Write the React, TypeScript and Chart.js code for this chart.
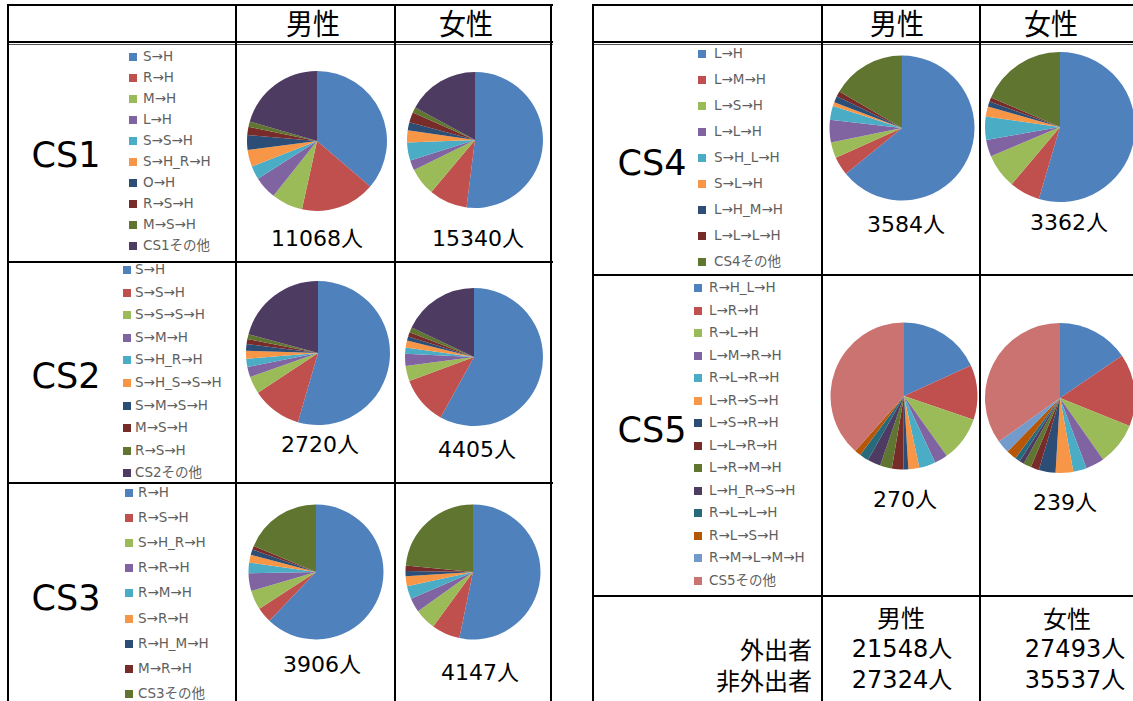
import React, { useEffect, useRef } from "react";
import { Chart, registerables } from "chart.js";

Chart.register(...registerables);

// Office-style series colours, used in order for every trip-chain pie
const PALETTE = [
  "#4F81BD", "#C0504D", "#9BBB59", "#8064A2", "#4BACC6", "#F79646", "#2C4D75",
  "#772C2A", "#5F7530", "#4D3B62", "#276A7C", "#B65708", "#729ACA", "#CB7370",
];

// Trip-chain categories per cluster
const CS1_LABELS = ["S→H", "R→H", "M→H", "L→H", "S→S→H", "S→H_R→H", "O→H", "R→S→H", "M→S→H", "CS1その他"];
const CS2_LABELS = ["S→H", "S→S→H", "S→S→S→H", "S→M→H", "S→H_R→H", "S→H_S→S→H", "S→M→S→H", "M→S→H", "R→S→H", "CS2その他"];
const CS3_LABELS = ["R→H", "R→S→H", "S→H_R→H", "R→R→H", "R→M→H", "S→R→H", "R→H_M→H", "M→R→H", "CS3その他"];
const CS4_LABELS = ["L→H", "L→M→H", "L→S→H", "L→L→H", "S→H_L→H", "S→L→H", "L→H_M→H", "L→L→L→H", "CS4その他"];
const CS5_LABELS = ["R→H_L→H", "L→R→H", "R→L→H", "L→M→R→H", "R→L→R→H", "L→R→S→H", "L→S→R→H", "L→L→R→H", "L→R→M→H", "L→H_R→S→H", "R→L→L→H", "R→L→S→H", "R→M→L→M→H", "CS5その他"];

// Share of each chain (%), male / female
const CS1_MALE = [36.2, 17.2, 7.2, 5.3, 3.1, 3.9, 3.4, 1.9, 1.2, 20.5];
const CS1_FEMALE = [52.0, 9.1, 6.6, 2.4, 4.3, 2.9, 1.9, 2.4, 1.3, 17.1];
const CS2_MALE = [54.5, 11.2, 3.9, 2.3, 1.8, 1.8, 1.5, 1.1, 1.1, 20.8];
const CS2_FEMALE = [58.1, 11.3, 3.6, 2.8, 1.5, 1.6, 1.0, 1.0, 1.2, 18.0];
const CS3_MALE = [62.2, 3.7, 4.6, 4.3, 2.5, 1.9, 1.3, 0.9, 18.7];
const CS3_FEMALE = [53.3, 6.8, 5.1, 3.4, 3.1, 2.4, 1.2, 1.3, 23.5];
const CS4_MALE = [64.1, 4.2, 3.5, 5.0, 3.1, 0.9, 1.4, 1.2, 16.6];
const CS4_FEMALE = [54.6, 6.6, 7.5, 3.6, 5.0, 2.2, 1.1, 0.9, 18.6];
const CS5_MALE = [18.2, 12.0, 9.9, 2.9, 3.6, 2.4, 1.1, 2.5, 2.6, 2.9, 2.0, 1.4, 0, 38.4];
const CS5_FEMALE = [15.5, 15.6, 9.2, 4.0, 2.9, 3.8, 3.6, 1.8, 1.7, 1.0, 1.1, 2.2, 2.8, 34.9];

// Persons per cluster
const CLUSTER_NAMES = ["CS1", "CS2", "CS3", "CS4", "CS5"];
const MALE_TOTALS = [11068, 2720, 3906, 3584, 270];
const FEMALE_TOTALS = [15340, 4405, 4147, 3362, 239];

// Outgoing / non-outgoing persons
const SUMMARY_ROWS = ["外出者", "非外出者"];
const SUMMARY_MALE = [21548, 27324];
const SUMMARY_FEMALE = [27493, 35537];

const GENDER_HEADERS = ["男性", "女性"];

const LATIN = '"DejaVu Sans", "Noto Sans CJK JP", sans-serif';
const CJK = '"Noto Sans CJK JP", "DejaVu Sans", sans-serif';

type PieProps = { cx: number; cy: number; r: number; values: number[]; labels: string[] };

function Pie({ cx, cy, r, values, labels }: PieProps) {
  const ref = useRef<HTMLCanvasElement | null>(null);
  const size = Math.ceil(r) * 2 + 4;
  useEffect(() => {
    if (!ref.current) return;
    const chart = new Chart(ref.current, {
      type: "pie",
      data: {
        labels,
        datasets: [
          {
            data: values,
            backgroundColor: PALETTE.slice(0, values.length),
            borderWidth: 0,
            hoverOffset: 0,
            radius: r,
          },
        ],
      },
      options: {
        responsive: false,
        maintainAspectRatio: false,
        animation: false,
        layout: { padding: 0 },
        plugins: { legend: { display: false }, tooltip: { enabled: false } },
      },
    });
    return () => chart.destroy();
  }, [cx, cy, r, values, labels]);
  return (
    <canvas
      ref={ref}
      width={size}
      height={size}
      style={{ position: "absolute", left: cx - size / 2, top: cy - size / 2, width: size, height: size }}
    />
  );
}

type TextProps = {
  x: number; y: number; size: number; family?: string; align?: "center" | "right" | "left";
  color?: string; children: React.ReactNode; scaleX?: number;
};

function Label({ x, y, size, family = LATIN, align = "center", color = "#000", children, scaleX = 1 }: TextProps) {
  const tx = align === "center" ? "-50%" : align === "right" ? "-100%" : "0";
  return (
    <div
      style={{
        position: "absolute", left: x, top: y, fontSize: size, fontFamily: family, color,
        lineHeight: 1, whiteSpace: "nowrap", transform: `translate(${tx}, -50%) scaleX(${scaleX})`,
        transformOrigin: align === "center" ? "center" : align === "right" ? "right" : "left",
      }}
    >
      {children}
    </div>
  );
}

type LegendProps = { labels: string[]; swatchX: number; textX: number; y0: number; step: number };

function Legend({ labels, swatchX, textX, y0, step }: LegendProps) {
  return (
    <>
      {labels.map((lab, i) => (
        <React.Fragment key={lab}>
          <div
            style={{
              position: "absolute", left: swatchX, top: y0 + i * step - 4, width: 8, height: 8,
              background: PALETTE[i],
            }}
          />
          <Label x={textX} y={y0 + i * step} size={13.5} align="left" color="#5f5f5f">
            {lab}
          </Label>
        </React.Fragment>
      ))}
    </>
  );
}

function HLine({ x1, x2, y, w = 2, color = "#000" }: { x1: number; x2: number; y: number; w?: number; color?: string }) {
  return <div style={{ position: "absolute", left: x1, top: y, width: x2 - x1, height: w, background: color }} />;
}
function VLine({ x, y1, y2, w = 2 }: { x: number; y1: number; y2: number; w?: number }) {
  return <div style={{ position: "absolute", left: x, top: y1, width: w, height: y2 - y1, background: "#000" }} />;
}

const fmt = (n: number) => `${n}人`;

export default function App() {
  const labelSets = [CS1_LABELS, CS2_LABELS, CS3_LABELS, CS4_LABELS, CS5_LABELS];
  const maleSets = [CS1_MALE, CS2_MALE, CS3_MALE, CS4_MALE, CS5_MALE];
  const femaleSets = [CS1_FEMALE, CS2_FEMALE, CS3_FEMALE, CS4_FEMALE, CS5_FEMALE];

  // cell geometry: pie centres/radii, count label centres, cluster name position, legend placement
  const cells = [
    { m: [317, 141, 70], f: [474.5, 140, 68], mt: [317, 239], ft: [478, 239], name: [66, 155], lg: [129, 143, 57, 21] },
    { m: [318, 353, 72], f: [473.5, 357, 69], mt: [320, 445], ft: [477, 450], name: [66, 376], lg: [123, 135, 270, 22.6] },
    { m: [315.5, 571.5, 67.5], f: [473, 572, 67.5], mt: [322, 665], ft: [480, 673], name: [66, 598], lg: [125, 138, 493, 25.1] },
    { m: [902, 127.5, 72.5], f: [1059.5, 126.5, 75], mt: [906, 225], ft: [1069, 223], name: [652, 163], lg: [698, 714, 54, 26] },
    { m: [904, 395.5, 73.5], f: [1059.5, 397.5, 75], mt: [905, 500], ft: [1065, 503], name: [652, 430], lg: [694, 709, 288, 22.5] },
  ];

  return (
    <div
      style={{
        position: "fixed", left: 0, top: 0, width: 1133, height: 701, overflow: "hidden",
        background: "#fff",
      }}
    >
      {/* left table frame */}
      <HLine x1={7} x2={553} y={4} />
      <HLine x1={7} x2={553} y={41} />
      <HLine x1={7} x2={553} y={43.5} w={1.5} color="#555" />
      <HLine x1={7} x2={553} y={261} />
      <HLine x1={7} x2={553} y={482} />
      <VLine x={7} y1={4} y2={701} />
      <VLine x={235} y1={4} y2={701} />
      <VLine x={394} y1={4} y2={701} />
      <VLine x={550} y1={4} y2={701} />

      {/* right table frame */}
      <HLine x1={592} x2={1133} y={4} />
      <HLine x1={592} x2={1133} y={41} />
      <HLine x1={592} x2={1133} y={43.5} w={1.5} color="#555" />
      <HLine x1={592} x2={1133} y={274} />
      <HLine x1={592} x2={1133} y={595} />
      <VLine x={592} y1={4} y2={701} />
      <VLine x={821} y1={4} y2={701} />
      <VLine x={979} y1={4} y2={701} />

      {/* column headers */}
      <Label x={313} y={22} size={29} family={CJK} scaleX={0.93}>{GENDER_HEADERS[0]}</Label>
      <Label x={466} y={22} size={29} family={CJK} scaleX={0.93}>{GENDER_HEADERS[1]}</Label>
      <Label x={897} y={22} size={29} family={CJK} scaleX={0.93}>{GENDER_HEADERS[0]}</Label>
      <Label x={1051} y={22} size={29} family={CJK} scaleX={0.93}>{GENDER_HEADERS[1]}</Label>

      {cells.map((c, i) => (
        <React.Fragment key={CLUSTER_NAMES[i]}>
          <Label x={c.name[0]} y={c.name[1]} size={35}>{CLUSTER_NAMES[i]}</Label>
          <Legend labels={labelSets[i]} swatchX={c.lg[0]} textX={c.lg[1]} y0={c.lg[2]} step={c.lg[3]} />
          <Pie cx={c.m[0]} cy={c.m[1]} r={c.m[2]} values={maleSets[i]} labels={labelSets[i]} />
          <Pie cx={c.f[0]} cy={c.f[1]} r={c.f[2]} values={femaleSets[i]} labels={labelSets[i]} />
          <Label x={c.mt[0]} y={c.mt[1]} size={22}>{fmt(MALE_TOTALS[i])}</Label>
          <Label x={c.ft[0]} y={c.ft[1]} size={22}>{fmt(FEMALE_TOTALS[i])}</Label>
        </React.Fragment>
      ))}

      {/* outgoing / non-outgoing summary */}
      <Label x={901} y={617} size={24} family={CJK}>{GENDER_HEADERS[0]}</Label>
      <Label x={1067} y={618} size={24} family={CJK}>{GENDER_HEADERS[1]}</Label>
      {SUMMARY_ROWS.map((row, i) => (
        <React.Fragment key={row}>
          <Label x={812} y={649 + i * 31} size={24} family={CJK} align="right">{row}</Label>
          <Label x={902} y={649 + i * 31} size={24}>{fmt(SUMMARY_MALE[i])}</Label>
          <Label x={1075} y={649 + i * 31} size={24}>{fmt(SUMMARY_FEMALE[i])}</Label>
        </React.Fragment>
      ))}
    </div>
  );
}
